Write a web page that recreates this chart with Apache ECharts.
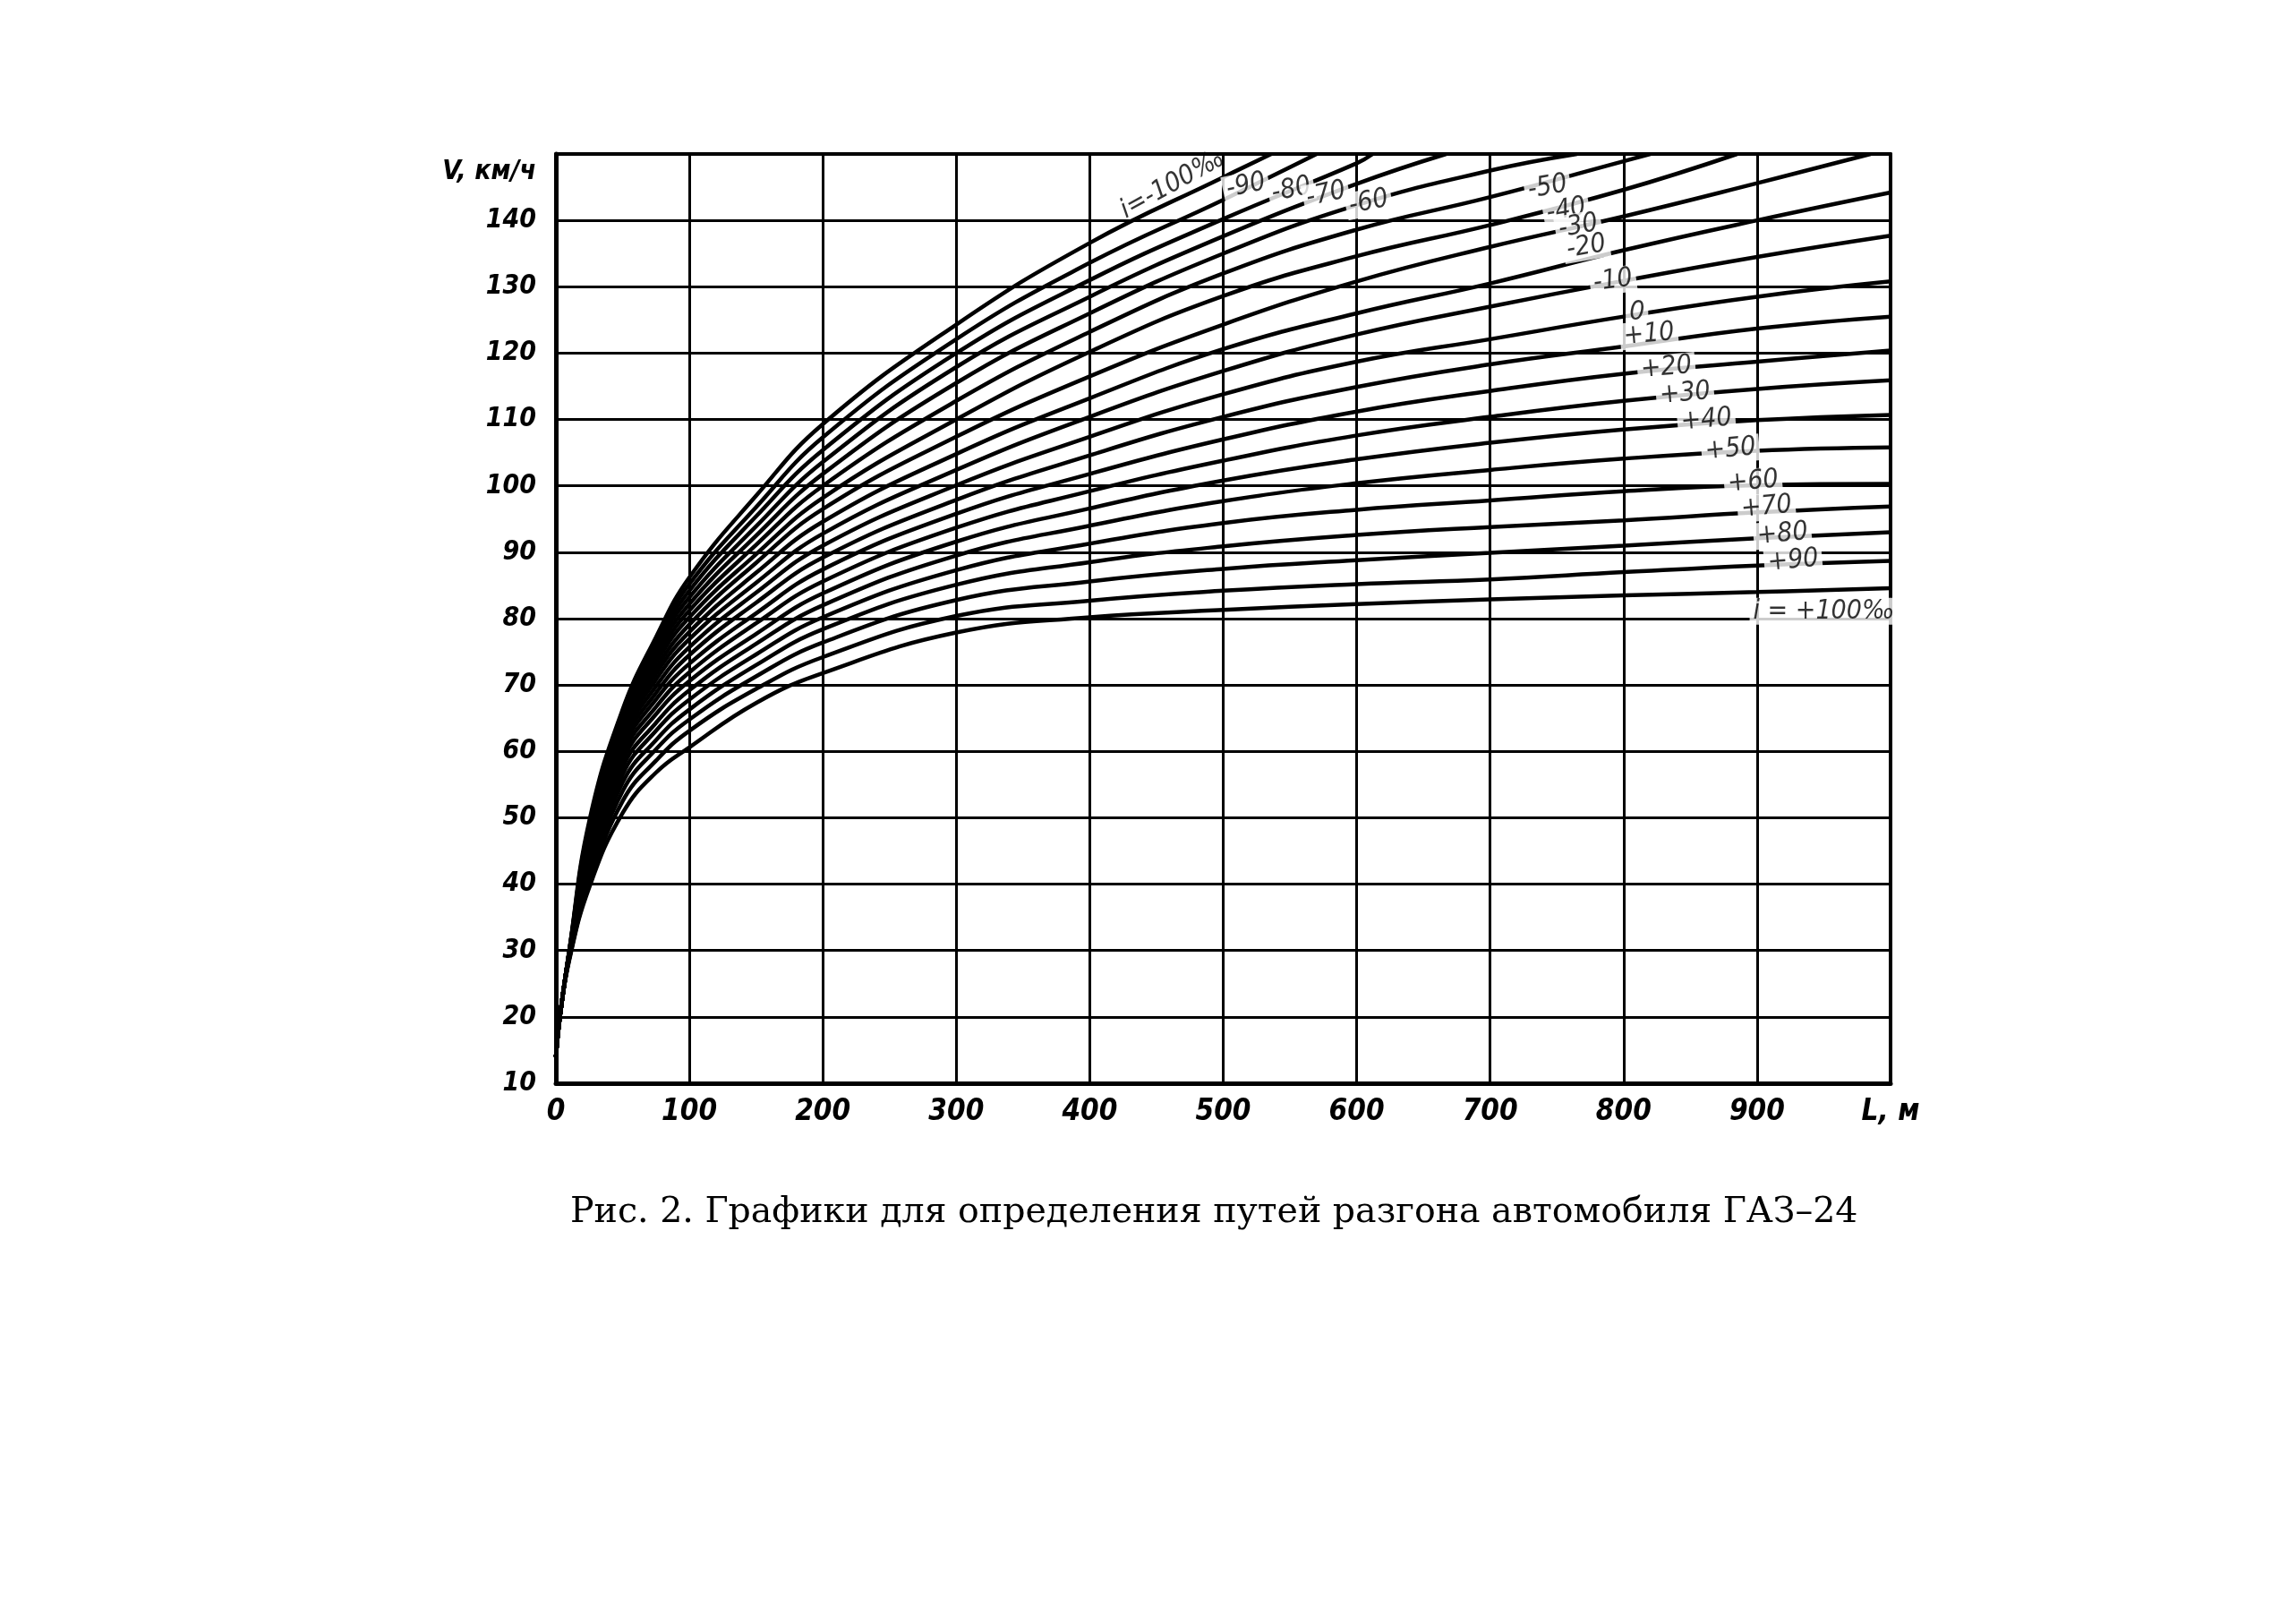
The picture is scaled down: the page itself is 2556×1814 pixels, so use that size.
<!DOCTYPE html>
<html><head><meta charset="utf-8">
<script src="https://cdn.jsdelivr.net/npm/echarts@6/dist/echarts.min.js"></script>
<style>html,body{margin:0;padding:0;background:#fff}#c{width:2556px;height:1814px}</style>
</head><body><div id="c"></div>
<script>
// ---- data: [L (m), V (km/h)] per gradient curve (‰) ----
const c_m100 = [[0,14],[3,20],[10,30.0],[25,49.5],[50,66.3],[75,77.2],[100,86.2],[150,98.5],[200,109.3],[300,124.3],[400,136.6],[500,146.5],[536,150]];
const c_m90  = [[0,14],[3,20],[10,29.9],[25,49.0],[50,66.0],[75,76.8],[100,85.2],[150,96.8],[200,107.3],[300,122.1],[400,133.6],[500,143.1],[570,150]];
const c_m80  = [[0,14],[3,20],[10,29.9],[25,48.5],[50,65.6],[75,76.2],[100,84.2],[150,95.4],[200,105.4],[300,120.0],[400,131.0],[500,140.2],[600,148.6],[612,150]];
const c_m70  = [[0,14],[3,20],[10,29.8],[25,48.0],[50,65.2],[75,75.6],[100,83.2],[150,93.9],[200,103.6],[300,117.9],[400,128.5],[500,137.6],[600,145.5],[667,150]];
const c_m60  = [[0,14],[3,20],[10,29.8],[25,47.5],[50,64.8],[75,74.9],[100,82.2],[150,92.5],[200,101.8],[300,115.5],[400,126.0],[500,135.0],[600,142.3],[700,147.5],[765,150]];
const c_m50  = [[0,14],[3,20],[10,29.7],[25,47.0],[50,64.4],[75,74.1],[100,81.2],[150,91.1],[200,100.0],[300,112.8],[400,123.2],[500,132.0],[600,138.6],[700,143.5],[800,148.9],[820,150]];
const c_m40  = [[0,14],[3,20],[10,29.7],[25,46.5],[50,63.9],[75,73.4],[100,80.2],[150,89.7],[200,98.2],[300,110.0],[400,120.2],[500,128.6],[600,134.6],[700,139.3],[800,144.6],[885,150]];
const c_m30  = [[0,14],[3,20],[10,29.6],[25,46.0],[50,63.4],[75,72.5],[100,79.1],[150,88.4],[200,96.5],[300,107.4],[400,116.5],[500,124.3],[600,130.8],[700,136.0],[800,140.6],[900,145.6],[985,150]];
const c_m20  = [[0,14],[3,20],[10,29.6],[25,45.5],[50,62.9],[75,71.7],[100,78.0],[150,86.9],[200,94.6],[300,104.8],[400,113.2],[500,120.6],[600,126.0],[700,130.5],[800,135.5],[900,140.0],[1000,144.2]];
const c_m10  = [[0,14],[3,20],[10,29.5],[25,45.0],[50,62.3],[75,70.8],[100,76.9],[150,85.4],[200,92.8],[300,102.4],[400,110.4],[500,117.3],[600,122.8],[700,127.0],[800,130.9],[900,134.5],[1000,137.7]];
const c_0    = [[0,14],[3,20],[10,29.5],[25,44.5],[50,61.7],[75,69.8],[100,75.7],[150,83.9],[200,91.0],[300,100.1],[400,107.4],[500,113.8],[600,118.7],[700,122.1],[800,125.5],[900,128.5],[1000,130.8]];
const c_p10  = [[0,14],[3,20],[10,29.4],[25,44.0],[50,61.0],[75,68.8],[100,74.5],[150,82.4],[200,89.2],[300,97.9],[400,104.6],[500,110.4],[600,114.9],[700,118.3],[800,121.0],[900,123.7],[1000,125.5]];
const c_p20  = [[0,14],[3,20],[10,29.4],[25,43.5],[50,60.3],[75,67.8],[100,73.2],[150,80.8],[200,87.4],[300,95.8],[400,101.8],[500,107.0],[600,111.2],[700,114.3],[800,116.9],[900,118.7],[1000,120.4]];
const c_p30  = [[0,14],[3,20],[10,29.3],[25,43.0],[50,59.5],[75,66.7],[100,71.9],[150,79.3],[200,85.6],[300,93.7],[400,99.2],[500,103.8],[600,107.6],[700,110.4],[800,112.8],[900,114.6],[1000,115.9]];
const c_p40  = [[0,14],[3,20],[10,29.2],[25,42.5],[50,58.6],[75,65.6],[100,70.6],[150,77.7],[200,83.8],[300,91.6],[400,96.6],[500,100.8],[600,104.0],[700,106.5],[800,108.5],[900,109.9],[1000,110.7]];
const c_p50  = [[0,14],[3,20],[10,29.1],[25,42.0],[50,57.6],[75,64.3],[100,69.2],[150,76.2],[200,82.0],[300,89.5],[400,94.0],[500,97.7],[600,100.4],[700,102.4],[800,104.1],[900,105.3],[1000,105.8]];
const c_p60  = [[0,14],[3,20],[10,29.0],[25,41.5],[50,56.5],[75,63.1],[100,67.8],[150,74.6],[200,80.2],[300,87.3],[400,91.3],[500,94.4],[600,96.4],[700,97.8],[800,99.2],[900,100.1],[1000,100.3]];
const c_p70  = [[0,14],[3,20],[10,28.9],[25,41.0],[50,55.3],[75,61.7],[100,66.3],[150,73.0],[200,78.4],[300,85.1],[400,88.5],[500,90.9],[600,92.6],[700,93.8],[800,94.8],[900,96.0],[1000,96.9]];
const c_p80  = [[0,14],[3,20],[10,28.8],[25,40.5],[50,54.0],[75,60.3],[100,64.8],[150,71.3],[200,76.4],[300,82.8],[400,85.6],[500,87.5],[600,88.8],[700,89.9],[800,91.0],[900,92.1],[1000,93.0]];
const c_p90  = [[0,14],[3,20],[10,28.7],[25,40.0],[50,52.5],[75,58.6],[100,63.1],[150,69.4],[200,74.2],[300,80.4],[400,82.7],[500,84.2],[600,85.2],[700,85.9],[800,87.0],[900,88.0],[1000,88.7]];
const c_p100 = [[0,14],[3,20],[10,28.5],[25,39.5],[50,50.7],[75,56.8],[100,60.6],[150,67.3],[200,71.8],[300,77.9],[400,80.2],[500,81.3],[600,82.2],[700,82.9],[800,83.5],[900,84.0],[1000,84.6]];

const CURVE_NAMES = ['-100','-90','-80','-70','-60','-50','-40','-30','-20','-10','0','+10','+20','+30','+40','+50','+60','+70','+80','+90','+100'];
const CURVES = [c_m100,c_m90,c_m80,c_m70,c_m60,c_m50,c_m40,c_m30,c_m20,c_m10,c_0,c_p10,c_p20,c_p30,c_p40,c_p50,c_p60,c_p70,c_p80,c_p90,c_p100];

// curve labels: text and where they sit (L, V)
const LABEL_TEXT = ['i=-100‰','-90','-80','-70','-60','-50','-40','-30','-20','-10','0','+10','+20','+30','+40','+50','+60','+70','+80','+90','i = +100‰'];
const LABEL_L    = [462, 517, 551, 577, 609, 743, 757, 766, 772, 792, 810, 819, 832, 846, 862, 880, 897, 907, 919, 927, 950];
const LABEL_V    = [145.4, 145.2, 144.6, 143.9, 142.7, 145.0, 141.5, 139.1, 136.0, 130.9, 126.1, 122.8, 117.8, 113.9, 109.9, 105.5, 100.6, 96.8, 92.7, 88.7, 81.1];

const X_MIN = 0, X_MAX = 1000, X_STEP = 100;
const Y_MIN = 10, Y_MAX = 150, Y_STEP = 10;
const X_NAME = 'L, м';
const Y_NAME = 'V, км/ч';
const CAPTION = 'Рис. 2. Графики для определения путей разгона автомобиля ГАЗ–24';

// ---- chart ----
const HAND = '"Liberation Sans Narrow","DejaVu Sans Condensed","Liberation Sans",sans-serif';
const labelRot = {'i=-100‰':29,'-90':12,'-80':12,'-70':12,'-60':12,'-50':10,'-40':10,'-30':10,'-20':10,'-10':8,'0':0,'i = +100‰':0};

const chart = echarts.init(document.getElementById('c'), null, {renderer:'canvas'});

const lineSeries = CURVES.map((d, k) => ({
  name: CURVE_NAMES[k], type: 'line', data: d, showSymbol: false, symbol: 'none',
  smooth: 0.45, clip: true, z: 3,
  lineStyle: {color: '#000', width: 4.5}, emphasis: {disabled: true}
}));

const labelData = LABEL_TEXT.map((t, k) => ({
  value: [LABEL_L[k], LABEL_V[k]], name: t,
  label: {rotate: (t in labelRot) ? labelRot[t] : 5,
          backgroundColor: t === 'i=-100‰' ? 'transparent' : '#fff'}
}));

chart.setOption({
  animation: false,
  backgroundColor: '#fff',
  title: {
    text: CAPTION, left: 632, top: 1330,
    textStyle: {fontFamily: '"DejaVu Serif","Liberation Serif",serif', fontSize: 39.5, fontWeight: 'normal', color: '#000'}
  },
  grid: {left: 621, top: 172, width: 1491, height: 1038, containLabel: false},
  xAxis: [{
    type: 'value', min: X_MIN, max: X_MAX, interval: X_STEP, position: 'bottom',
    axisLine: {show: true, onZero: false, lineStyle: {color: '#000', width: 5}},
    axisTick: {show: false},
    splitLine: {show: true, lineStyle: {color: '#000', width: 3}},
    axisLabel: {
      margin: 16, color: '#000', fontFamily: HAND, fontStyle: 'italic', fontWeight: 'bold', fontSize: 33,
      formatter: v => v === X_MAX ? X_NAME : String(v)
    }
  }, {
    type: 'value', min: X_MIN, max: X_MAX, position: 'top',
    axisLine: {show: true, onZero: false, lineStyle: {color: '#000', width: 4}},
    axisTick: {show: false}, axisLabel: {show: false}, splitLine: {show: false}
  }],
  yAxis: [{
    type: 'value', min: Y_MIN, max: Y_MAX, interval: Y_STEP, position: 'left',
    axisLine: {show: true, onZero: false, lineStyle: {color: '#000', width: 5}},
    axisTick: {show: false},
    splitLine: {show: true, lineStyle: {color: '#000', width: 3}},
    axisLabel: {
      margin: 22, color: '#000', fontFamily: HAND, fontStyle: 'italic', fontWeight: 'bold', fontSize: 30,
      formatter: v => v === Y_MAX ? '{u|' + Y_NAME + '}' : String(v),
      rich: {u: {fontFamily: HAND, fontStyle: 'italic', fontWeight: 'bold', fontSize: 30, color: '#000', padding: [40, 0, 0, 0]}}
    }
  }, {
    type: 'value', min: Y_MIN, max: Y_MAX, position: 'right',
    axisLine: {show: true, onZero: false, lineStyle: {color: '#000', width: 4}},
    axisTick: {show: false}, axisLabel: {show: false}, splitLine: {show: false}
  }],
  series: lineSeries.concat([{
    type: 'scatter', data: labelData, symbolSize: 0, z: 10, silent: true,
    label: {
      show: true, position: 'inside', formatter: p => p.name,
      color: '#000', fontFamily: HAND, fontStyle: 'italic', fontSize: 30,
      padding: [0, 4, 0, 4]
    },
    emphasis: {disabled: true}
  }])
});
</script></body></html>
